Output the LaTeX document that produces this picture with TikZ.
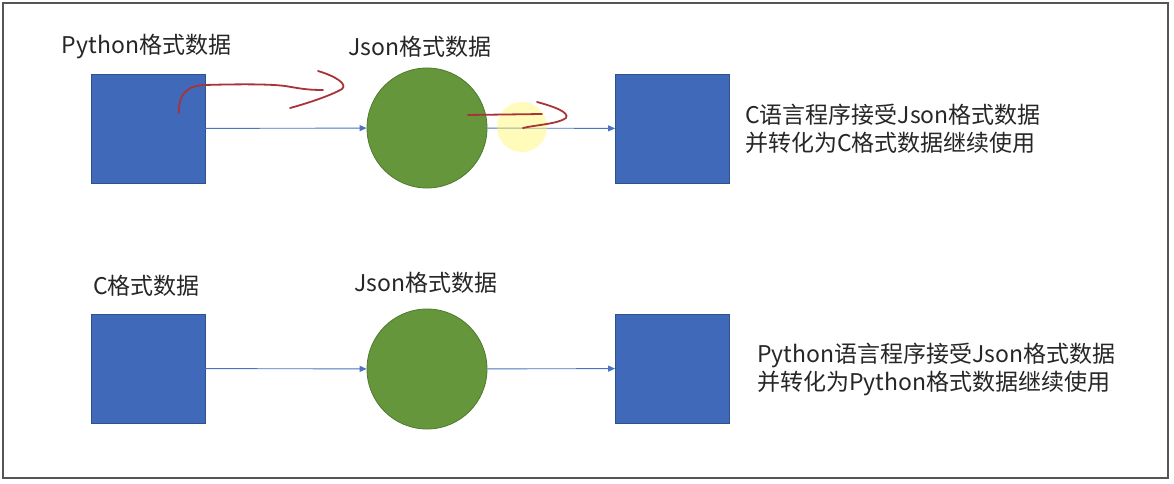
\documentclass[tikz,border=0pt]{standalone}
\usepackage{fontspec}
\newfontfamily\cjk{Noto Sans CJK SC}
\usetikzlibrary{arrows.meta}
\definecolor{boxblue}{HTML}{4169B9}
\definecolor{boxedge}{HTML}{2F528F}
\definecolor{ballgreen}{HTML}{66963B}
\definecolor{balledge}{HTML}{4E7A2E}
\definecolor{arrowblue}{HTML}{4A74C0}
\definecolor{inkred}{HTML}{A8343A}
\definecolor{framegray}{HTML}{555555}
\begin{document}
\begin{tikzpicture}[x=1pt,y=-1pt,
  databox/.style={rectangle,draw=boxedge,line width=0.8pt,fill=boxblue,minimum width=114pt,minimum height=109pt,inner sep=0pt},
  jsonball/.style={circle,draw=balledge,line width=0.8pt,fill=ballgreen,minimum size=120pt,inner sep=0pt},
  lbl/.style={font=\cjk\fontsize{23}{27}\selectfont,text=black!85,inner sep=0pt},
  desc/.style={font=\cjk\fontsize{23}{28}\selectfont,text=black!85,inner sep=0pt,align=left,anchor=west},
  flow/.style={draw=arrowblue,line width=0.9pt,-{Triangle[length=7pt,width=6pt]}},
  ink/.style={draw=inkred,line width=1.8pt,line cap=round,line join=round}
]
\useasboundingbox (0,0) rectangle (1174,484);
\fill[white] (0,0) rectangle (1174,484);
\draw[framegray,line width=1.5pt] (3,3) rectangle (1168,478);

% top row
\node[databox] (p1) at (148,128.5) {};
\node[jsonball] (j1) at (427,128) {};
\node[databox] (c1) at (672.5,128.5) {};
\node[lbl] (lp1) at (146.5,47) {Python格式数据};
\node[lbl] (lj1) at (420,47) {Json格式数据};
\node[desc] (d1) at (745,129) {C语言程序接受Json格式数据\\并转化为C格式数据继续使用};
\draw[flow] (p1) -- (j1);
\draw[flow] (j1) -- (c1);

% bottom row
\node[databox] (p2) at (148,368.5) {};
\node[jsonball] (j2) at (427,369) {};
\node[databox] (c2) at (672.5,368.5) {};
\node[lbl] (lp2) at (146.5,286) {C格式数据};
\node[lbl] (lj2) at (426,283) {Json格式数据};
\node[desc] (d2) at (757,369) {Python语言程序接受Json格式数据\\并转化为Python格式数据继续使用};
\draw[flow] (p2) -- (j2);
\draw[flow] (j2) -- (c2);

% hand-drawn annotations
\fill[yellow!60,opacity=0.45] (522,127) circle (25);
\draw[ink] (179,113) .. controls (178,92) and (190,85) .. (205,85)
  .. controls (240,84) and (270,84) .. (285,86)
  .. controls (298,88) and (305,90) .. (323,90);
\draw[ink] (318,71) .. controls (335,76) and (348,84) .. (342,89)
  .. controls (330,96) and (305,104) .. (290,108);
\draw[ink] (468,115) -- (542,114);
\draw[ink] (537,102) .. controls (552,106) and (570,112) .. (566,118)
  .. controls (558,124) and (535,125) .. (523,128);
\end{tikzpicture}
\end{document}
